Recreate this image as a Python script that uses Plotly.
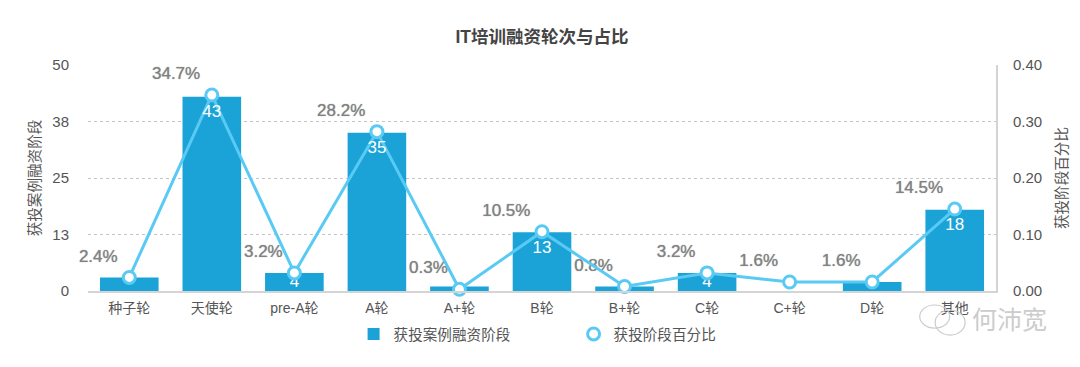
import plotly.graph_objects as go

categories = ["种子轮", "天使轮", "pre-A轮", "A轮", "A+轮", "B轮", "B+轮", "C轮", "C+轮", "D轮", "其他"]
case_counts = [3, 43, 4, 35, 1, 13, 1, 4, 0, 2, 18]
count_labels = ["", "43", "4", "35", "", "13", "", "4", "", "", "18"]
shares = [0.024, 0.347, 0.032, 0.282, 0.003, 0.105, 0.008, 0.032, 0.016, 0.016, 0.145]
share_labels = ["2.4%", "34.7%", "3.2%", "28.2%", "0.3%", "10.5%", "0.8%", "3.2%", "1.6%", "1.6%", "14.5%"]
left_ticks = [0, 12.5, 25, 37.5, 50]
left_tick_text = ["0", "13", "25", "38", "50"]
right_ticks = [0, 0.1, 0.2, 0.3, 0.4]
right_tick_text = ["0.00", "0.10", "0.20", "0.30", "0.40"]

FONT = "Liberation Sans, Noto Sans CJK SC, sans-serif"
BAR = "#1ba3d8"
LINE = "#58caf4"
TXT = "#555555"

fig = go.Figure()
# share labels sit on the base subplot, so the bars cover them
fig.add_trace(go.Scatter(x=categories, y=shares, yaxis="y", mode="markers+text", text=share_labels,
                         textposition="top left", showlegend=False, hoverinfo="skip", cliponaxis=False,
                         marker=dict(size=17, opacity=0),
                         textfont=dict(size=17, color="#828282", family=FONT, shadow="0 0 1px #8a8a8a")))
fig.add_trace(go.Bar(x=categories, y=case_counts, yaxis="y2", name="获投案例融资阶段",
                     marker=dict(color=BAR, line_width=0), width=0.71))
fig.add_trace(go.Scatter(x=categories, y=shares, yaxis="y3", mode="lines", showlegend=False,
                         line=dict(color=LINE, width=3), hoverinfo="skip"))
fig.add_trace(go.Scatter(x=categories, y=case_counts, yaxis="y4", mode="markers+text", text=count_labels,
                         textposition="bottom center", showlegend=False, hoverinfo="skip", cliponaxis=False,
                         marker=dict(size=[11 if v >= 10 else 1 for v in case_counts], opacity=0),
                         textfont=dict(size=17, color="#ffffff", family=FONT)))
fig.add_trace(go.Scatter(x=categories, y=shares, yaxis="y5", mode="markers", name="获投阶段百分比", cliponaxis=False,
                         marker=dict(size=12, color="#ffffff", line=dict(color=LINE, width=3))))

grid = dict(showgrid=False, zeroline=False)
fig.update_layout(
    width=1080, height=367, autosize=False, paper_bgcolor="#ffffff", plot_bgcolor="#ffffff",
    margin=dict(l=79.7, r=91.7, t=57, b=84, autoexpand=False),
    font=dict(family=FONT, color=TXT, size=14),
    title=dict(text="<b>IT培训融资轮次与占比</b>", x=0.5, xref="paper", xanchor="center", y=0.922, yanchor="middle",
               font=dict(size=17.5, color="#444444", family=FONT)),
    bargap=0.29,
    xaxis=dict(type="category", categoryorder="array", categoryarray=categories, range=[-0.5, 10.5],
               showline=True, linecolor="#d4d4d4", linewidth=2, ticks="", showgrid=False,
               tickfont=dict(size=14, color=TXT), ticklabelstandoff=3),
    yaxis=dict(range=[0, 0.4], visible=False, **grid),
    yaxis2=dict(range=[0, 50], overlaying="y", side="left", tickvals=left_ticks, ticktext=left_tick_text,
                showgrid=True, gridcolor="#c4c4c4", griddash="dot", gridwidth=1, zeroline=False,
                ticks="outside", ticklen=15, tickcolor="rgba(0,0,0,0)", tickfont=dict(size=15, color=TXT),
                title=dict(text="获投案例融资阶段", standoff=8, font=dict(size=14.6, color=TXT))),
    yaxis3=dict(range=[0, 0.4], overlaying="y", side="right", tickvals=right_ticks, ticktext=right_tick_text,
                showgrid=False, zeroline=False, showline=True, linecolor="#d4d4d4", linewidth=2,
                ticks="outside", ticklen=12, tickcolor="rgba(0,0,0,0)", tickfont=dict(size=15, color=TXT),
                title=dict(text="获投阶段百分比", standoff=16, font=dict(size=14.6, color=TXT))),
    yaxis4=dict(range=[0, 50], overlaying="y", visible=False, **grid),
    yaxis5=dict(range=[0, 0.4], overlaying="y", visible=False, **grid),
    legend=dict(orientation="h", x=0.2925, xanchor="left", y=-0.19, yanchor="middle", entrywidth=175,
                entrywidthmode="pixels", font=dict(size=14.6, color=TXT), bgcolor="rgba(0,0,0,0)"),
    annotations=[dict(text="何沛宽", xref="paper", yref="paper", x=1.058, y=-0.128, xanchor="right", yanchor="middle",
                      showarrow=False, font=dict(size=25, color="#cccccc", family=FONT))],
    shapes=[
        dict(type="circle", xref="paper", yref="paper", x0=0.916, x1=0.949, y0=-0.164, y1=-0.062,
             line=dict(color="#cccccc", width=1.2)),
        dict(type="circle", xref="paper", yref="paper", x0=0.933, x1=0.966, y0=-0.195, y1=-0.084,
             line=dict(color="#cccccc", width=1.2)),
    ],
)
fig.write_html("out.html")
